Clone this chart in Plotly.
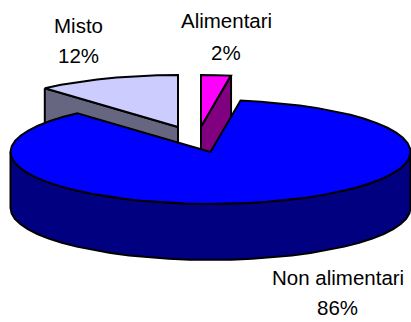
import math
import plotly.graph_objects as go

# Data
categories = ["Alimentari", "Non alimentari", "Misto"]
values = [2.4, 86.0, 11.6]
top_colors = ["#FF00FF", "#0000FF", "#CCCCFF"]
side_colors = ["#800080", "#000080", "#666680"]

# Projection parameters of the tilted pie (pixels)
W, H = 411, 322
RX, RY, DEPTH = 200, 52, 56
HUB = (210.5, 152)
EXPLODED_HUB = {"Alimentari": (201, 127), "Misto": (178, 127)}
STEP = 6


def sweep(start, end):
    n = max(2, int(round((end - start) / STEP)))
    return [start + (end - start) * i / n for i in range(n + 1)]


def pt(c, deg, dz=0.0):
    a = math.radians(deg)
    return c[0] + RX * math.sin(a), c[1] - RY * math.cos(a) + dz


def poly(points, color, width=2):
    xs = [p[0] for p in points] + [points[0][0]]
    ys = [p[1] for p in points] + [points[0][1]]
    return go.Scatter(x=xs, y=ys, mode="lines", fill="toself", fillcolor=color,
                      line=dict(color="black", width=width), hoverinfo="skip", showlegend=False)


total = sum(values)
spans = {}
acc = 0.0
for name, v in zip(categories, values):
    spans[name] = (acc, acc + 360.0 * v / total)
    acc += 360.0 * v / total

traces = []

# Misto: cut face, then top
s, e = spans["Misto"]
c = EXPLODED_HUB["Misto"]
traces.append(poly([pt(c, s), c, (c[0], c[1] + DEPTH), pt(c, s, DEPTH)], side_colors[2]))
traces.append(poly([c] + [pt(c, d) for d in sweep(s, e)], top_colors[2]))

# Alimentari: top, then cut face
s, e = spans["Alimentari"]
c = EXPLODED_HUB["Alimentari"]
traces.append(poly([c] + [pt(c, d) for d in sweep(s, e)], top_colors[0]))
traces.append(poly([c, pt(c, e), pt(c, e, DEPTH), (c[0], c[1] + DEPTH)], side_colors[0]))

# Non alimentari: rim, then top
s, e = spans["Non alimentari"]
arc = sweep(90, 270)
traces.append(poly([pt(HUB, d) for d in arc] + [pt(HUB, d, DEPTH) for d in reversed(arc)], side_colors[1]))
traces.append(poly([HUB] + [pt(HUB, d) for d in sweep(s, e)], top_colors[1]))

fig = go.Figure(traces)

label_pos = {"Misto": (78.5, 25, 55), "Alimentari": (226, 20, 52), "Non alimentari": (337.5, 277, 307)}
FONT = dict(family="Liberation Sans, Arial, sans-serif", size=20.5, color="black")
for name, v in zip(categories, values):
    x, y1, y2 = label_pos[name]
    for text, y in ((name, y1), (f"{round(v)}%", y2)):
        fig.add_annotation(x=x, y=y, xref="x", yref="y", text=text, showarrow=False, font=FONT,
                           xanchor="center", yanchor="middle")

fig.update_layout(width=W, height=H, autosize=False, margin=dict(l=0, r=0, t=0, b=0),
                  paper_bgcolor="white", plot_bgcolor="white", showlegend=False,
                  xaxis=dict(range=[0, W], visible=False, fixedrange=True),
                  yaxis=dict(range=[H, 0], visible=False, fixedrange=True))
fig.write_html("out.html", config={"displayModeBar": False},
               post_script="document.body.style.margin='0';")
